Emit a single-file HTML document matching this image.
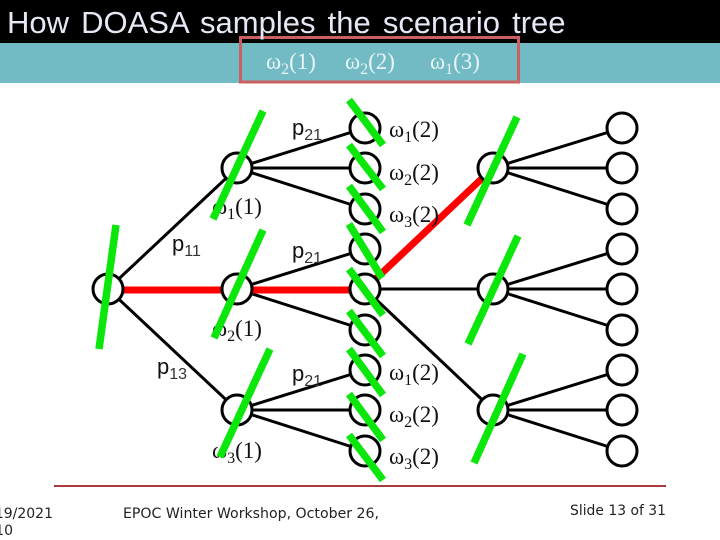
<!DOCTYPE html>
<html>
<head>
<meta charset="utf-8">
<style>
html,body{margin:0;padding:0;background:#fff;width:720px;height:540px;overflow:hidden}
svg{display:block}
.o{font-family:"Liberation Serif",serif;font-size:23px;fill:#111}
.p{font-family:"Liberation Sans",sans-serif;font-size:22px;fill:#111}
.ps{font-family:"Liberation Sans",sans-serif;font-size:16px;fill:#333}
.w{font-family:"Liberation Serif",serif;font-size:23px;fill:#e8f4f6}
.f{font-family:"DejaVu Sans",sans-serif;font-size:14px;fill:#222}
</style>
</head>
<body>
<svg width="720" height="540" viewBox="0 0 720 540" xmlns="http://www.w3.org/2000/svg">
<rect width="720" height="540" fill="#fff"/>
<rect x="0" y="0" width="720" height="43" fill="#000"/>
<rect x="0" y="43" width="720" height="40" fill="#72bbc4"/>
<rect x="240.5" y="37.5" width="278" height="44.5" fill="none" stroke="#cc6060" stroke-width="3"/>
<text x="7" y="33" font-family="'Liberation Sans',sans-serif" font-size="31" word-spacing="3.5" fill="#e6e8f5">How DOASA samples the scenario tree</text>

<text class="w" x="266" y="69">ω<tspan font-size="16" dy="5">2</tspan><tspan dy="-5">(1)</tspan></text>
<text class="w" x="345" y="69">ω<tspan font-size="16" dy="5">2</tspan><tspan dy="-5">(2)</tspan></text>
<text class="w" x="430" y="69">ω<tspan font-size="16" dy="5">1</tspan><tspan dy="-5">(3)</tspan></text>

<g stroke="#000" stroke-width="3" fill="none">
<line x1="108" y1="289" x2="237" y2="168"/>
<line x1="108" y1="289" x2="237" y2="410"/>
<line x1="237" y1="168" x2="365" y2="128"/>
<line x1="237" y1="168" x2="365" y2="168"/>
<line x1="237" y1="168" x2="365" y2="209"/>
<line x1="237" y1="289" x2="365" y2="249"/>
<line x1="237" y1="289" x2="365" y2="330"/>
<line x1="237" y1="410" x2="365" y2="370"/>
<line x1="237" y1="410" x2="365" y2="410"/>
<line x1="237" y1="410" x2="365" y2="451"/>
<line x1="365" y1="289" x2="493" y2="289"/>
<line x1="365" y1="289" x2="493" y2="410"/>
<line x1="493" y1="168" x2="622" y2="128"/>
<line x1="493" y1="168" x2="622" y2="168"/>
<line x1="493" y1="168" x2="622" y2="209"/>
<line x1="493" y1="289" x2="622" y2="249"/>
<line x1="493" y1="289" x2="622" y2="289"/>
<line x1="493" y1="289" x2="622" y2="330"/>
<line x1="493" y1="410" x2="622" y2="370"/>
<line x1="493" y1="410" x2="622" y2="410"/>
<line x1="493" y1="410" x2="622" y2="451"/>
</g>
<g stroke="#f00" stroke-width="7" fill="none">
<line x1="108" y1="290" x2="365" y2="290"/>
<line x1="365" y1="289" x2="493" y2="168"/>
</g>
<g stroke="#000" stroke-width="3" fill="#fff">
<circle cx="108" cy="289" r="15"/>
<circle cx="237" cy="168" r="15"/><circle cx="237" cy="289" r="15"/><circle cx="237" cy="410" r="15"/>
<circle cx="365" cy="128" r="15"/><circle cx="365" cy="168" r="15"/><circle cx="365" cy="209" r="15"/>
<circle cx="365" cy="249" r="15"/><circle cx="365" cy="289" r="15"/><circle cx="365" cy="330" r="15"/>
<circle cx="365" cy="370" r="15"/><circle cx="365" cy="410" r="15"/><circle cx="365" cy="451" r="15"/>
<circle cx="493" cy="168" r="15"/><circle cx="493" cy="289" r="15"/><circle cx="493" cy="410" r="15"/>
<circle cx="622" cy="128" r="15"/><circle cx="622" cy="168" r="15"/><circle cx="622" cy="209" r="15"/>
<circle cx="622" cy="249" r="15"/><circle cx="622" cy="289" r="15"/><circle cx="622" cy="330" r="15"/>
<circle cx="622" cy="370" r="15"/><circle cx="622" cy="410" r="15"/><circle cx="622" cy="451" r="15"/>
</g>

<text class="o" x="389" y="137">ω<tspan font-size="16" dy="5">1</tspan><tspan dy="-5">(2)</tspan></text>
<text class="o" x="389" y="180">ω<tspan font-size="16" dy="5">2</tspan><tspan dy="-5">(2)</tspan></text>
<text class="o" x="389" y="222">ω<tspan font-size="16" dy="5">3</tspan><tspan dy="-5">(2)</tspan></text>
<text class="o" x="389" y="380">ω<tspan font-size="16" dy="5">1</tspan><tspan dy="-5">(2)</tspan></text>
<text class="o" x="389" y="422">ω<tspan font-size="16" dy="5">2</tspan><tspan dy="-5">(2)</tspan></text>
<text class="o" x="389" y="464">ω<tspan font-size="16" dy="5">3</tspan><tspan dy="-5">(2)</tspan></text>
<text class="o" x="212" y="214">ω<tspan font-size="16" dy="5">1</tspan><tspan dy="-5">(1)</tspan></text>
<text class="o" x="212" y="336">ω<tspan font-size="16" dy="5">2</tspan><tspan dy="-5">(1)</tspan></text>
<text class="o" x="212" y="458">ω<tspan font-size="16" dy="5">3</tspan><tspan dy="-5">(1)</tspan></text>

<text class="p" x="292" y="135">p<tspan class="ps" dy="5">21</tspan></text>
<text class="p" x="292" y="258">p<tspan class="ps" dy="5">21</tspan></text>
<text class="p" x="292" y="381">p<tspan class="ps" dy="5">21</tspan></text>
<text class="p" x="172" y="251">p<tspan class="ps" dy="5">11</tspan></text>
<text class="p" x="157" y="374">p<tspan class="ps" dy="5">13</tspan></text>

<g stroke="#0be60b" stroke-width="7.5" fill="none">
<line x1="116" y1="225" x2="99" y2="349"/>
<line x1="263" y1="111" x2="213" y2="219"/>
<line x1="263" y1="230" x2="214" y2="338"/>
<line x1="270" y1="349" x2="220" y2="457"/>
<line x1="517" y1="117" x2="467" y2="225"/>
<line x1="518" y1="236" x2="468" y2="344"/>
<line x1="523" y1="354" x2="474" y2="463"/>
<line x1="349" y1="100" x2="383" y2="145"/>
<line x1="349" y1="145" x2="383" y2="189"/>
<line x1="349" y1="186" x2="383" y2="232"/>
<line x1="349" y1="224" x2="382" y2="278"/>
<line x1="349" y1="269" x2="383" y2="315"/>
<line x1="349" y1="311" x2="383" y2="356"/>
<line x1="349" y1="349" x2="383" y2="395"/>
<line x1="349" y1="394" x2="383" y2="440"/>
<line x1="349" y1="435" x2="383" y2="480"/>
</g>

<line x1="54" y1="486" x2="666" y2="486" stroke="#a83a3a" stroke-width="2"/>
<text class="f" x="53" y="518" text-anchor="end">19/2021</text>
<text class="f" x="13" y="535" text-anchor="end">10</text>
<text class="f" x="123" y="518" textLength="256" lengthAdjust="spacingAndGlyphs">EPOC Winter Workshop, October 26,</text>
<text class="f" x="570" y="515" textLength="96" lengthAdjust="spacingAndGlyphs">Slide 13 of 31</text>
</svg>
</body>
</html>
